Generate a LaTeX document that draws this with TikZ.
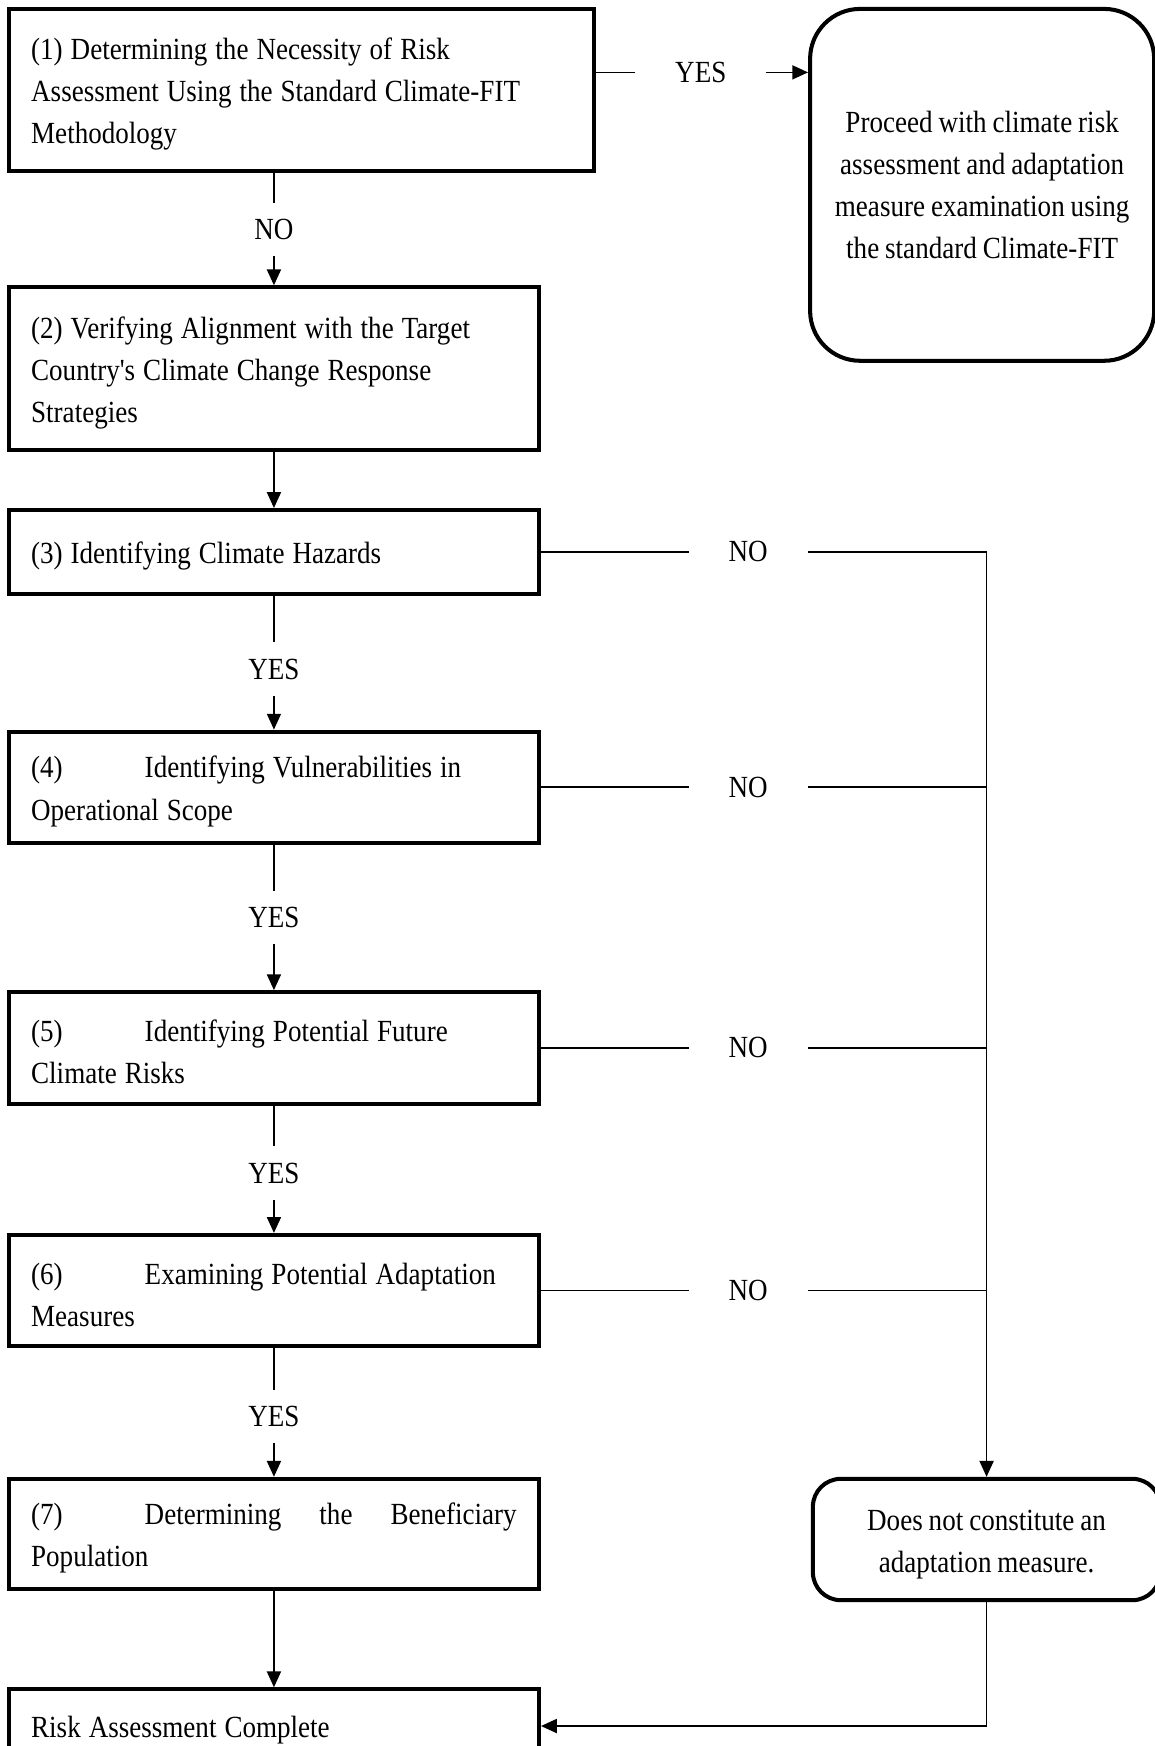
\documentclass[tikz,border=0pt]{standalone}
\usepackage{fontspec}
\setmainfont[FakeStretch=0.88, WordSpace=0.88, Ligatures=TeXOff]{Liberation Serif}
\usetikzlibrary{arrows.meta}
\tikzset{
  stepbox/.style={draw, line width=2.3pt, rectangle, align=left, inner xsep=0.4455cm,
    inner ysep=0pt, text width=9.713cm, font=\fontsize{17.5}{24}\selectfont,
    execute at begin node={\spaceskip=0.26em\xspaceskip=0pt\rule{0pt}{17pt}}},
  endbox/.style={draw, line width=2.3pt, rectangle, align=center, inner sep=0pt,
    font=\fontsize{17.5}{24}\selectfont},
  hgap/.style={fill=white, inner xsep=0.8cm, inner ysep=2pt, font=\fontsize{17.5}{24}\selectfont},
  vgap/.style={fill=white, inner xsep=2pt, inner ysep=0.33cm, font=\fontsize{17.5}{24}\selectfont}
}
\begin{document}
\begin{tikzpicture}[>={Triangle[length=9pt,width=8pt]}, line width=0.9pt]
\useasboundingbox (0,0) rectangle (23.1,-34.928);
% steps
\node[stepbox, text width=10.804cm, minimum height=3.252cm] (s1) at (6.026,-1.804)
  {(1) Determining the Necessity of Risk\\Assessment Using the Standard Climate-FIT\\Methodology};
\node[stepbox, minimum height=3.252cm] (s2) at (5.480,-7.373)
  {(2) Verifying Alignment with the Target\\Country's Climate Change Response\\Strategies};
\node[stepbox, minimum height=1.671cm] (s3) at (5.480,-11.038)
  {(3) Identifying Climate Hazards};
\node[stepbox, minimum height=2.228cm] (s4) at (5.480,-15.749)
  {\makebox[2.272cm][l]{(4)}Identifying Vulnerabilities in\\Operational Scope};
\node[stepbox, minimum height=2.228cm] (s5) at (5.480,-20.962)
  {\makebox[2.272cm][l]{(5)}Identifying Potential Future\\Climate Risks};
\node[stepbox, minimum height=2.228cm] (s6) at (5.480,-25.818)
  {\makebox[2.272cm][l]{(6)}Examining Potential Adaptation\\Measures};
\node[stepbox, minimum height=2.205cm] (s7) at (5.480,-30.685)
  {\makebox[2.272cm][l]{(7)}Determining\hfill the\hfill Beneficiary\\Population};
\node[stepbox, minimum height=1.470cm] (done) at (5.480,-34.528)
  {Risk Assessment Complete};

% outcomes
\node[endbox, rounded corners=1.0cm, minimum width=6.883cm, minimum height=7.039cm] (proceed) at (19.647,-3.698)
  {Proceed with climate risk\\assessment and adaptation\\measure examination using\\the standard Climate-FIT};
\node[endbox, rounded corners=0.56cm, minimum width=6.950cm, minimum height=2.428cm] (nomeasure) at (19.736,-30.797)
  {\rule{0pt}{17pt}Does not constitute an\\adaptation measure.};

\coordinate (yes) at (11.873,-1.448);

% main path
\path[->]
(s2 |- s1.south) edge node[vgap]{NO} (s2)
(s2) edge (s3)
(s3) edge node[vgap, pos=0.55]{YES} (s4)
(s4) edge node[vgap]{YES} (s5)
(s5) edge node[vgap, pos=0.53]{YES} (s6)
(s6) edge node[vgap, pos=0.53]{YES} (s7)
(s7) edge (done);

% standard methodology
\draw[->] (yes) -- node[hgap]{YES} (yes -| proceed.west);

% no branches
\draw[->] (s3.east) -- node[hgap, pos=0.465]{NO} (s3.east -| nomeasure.north) -- (nomeasure.north);
\path
(s4.east) edge node[hgap, pos=0.465]{NO} (s4.east -| nomeasure.north)
(s5.east) edge node[hgap, pos=0.465]{NO} (s5.east -| nomeasure.north)
(s6.east) edge node[hgap, pos=0.465]{NO} (s6.east -| nomeasure.north);
\draw[->] (nomeasure.south) |- (done.east);
\end{tikzpicture}
\end{document}
